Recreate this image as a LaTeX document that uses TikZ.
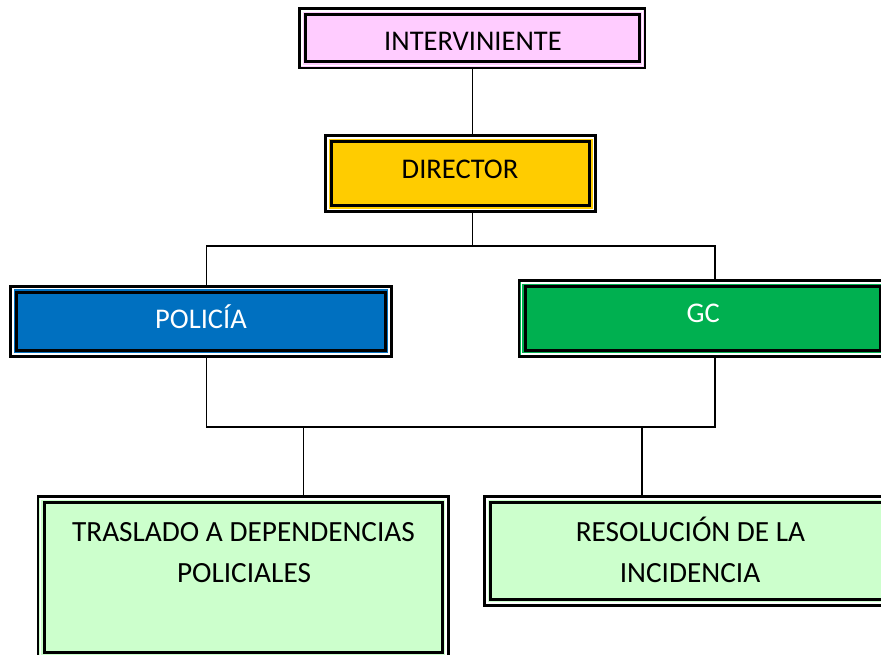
\documentclass[tikz,border=0pt]{standalone}
\usepackage{fontspec}
\setmainfont{Carlito}
\definecolor{cpink}{RGB}{255,204,255}
\definecolor{cgold}{RGB}{255,204,0}
\definecolor{cblue}{RGB}{0,112,192}
\definecolor{cgreen}{RGB}{0,176,80}
\definecolor{clight}{RGB}{204,255,204}
\tikzset{
  box/.style={draw=black, line width=2.8pt, rectangle, inner sep=0pt,
    path picture={
      \draw[white, line width=1.5pt] ([shift={(2.4pt,-2.4pt)}]path picture bounding box.north west) rectangle ([shift={(-2.4pt,2.4pt)}]path picture bounding box.south east);
      \draw[black, line width=3pt] ([shift={(6pt,-6pt)}]path picture bounding box.north west) rectangle ([shift={(-6pt,6pt)}]path picture bounding box.south east);
    }},
  lbl/.style={anchor=base, inner sep=0pt, font=\fontsize{28.5}{34}\selectfont},
  lblb/.style={anchor=base, inner sep=0pt, font=\fontsize{29.3}{35}\selectfont},
  conn/.style={draw=black, line width=1.7pt},
}
\begin{document}
\begin{tikzpicture}[x=1pt,y=-1pt]
\useasboundingbox (0,0) rectangle (881,655);
\clip (0,0) rectangle (881,655);
% boxes
\node[box, fill=cpink, minimum width=345.5pt, minimum height=59.5pt] (int) at (472.25,38.25) {};
\node[box, fill=cgold, minimum width=270pt, minimum height=76pt] (dir) at (460.8,173.8) {};
\node[box, fill=cblue, minimum width=380.6pt, minimum height=70pt] (pol) at (201,321.3) {};
\node[box, fill=cgreen, minimum width=367pt, minimum height=75.9pt] (gc) at (702.5,318.35) {};
\node[box, fill=clight, minimum width=410.6pt, minimum height=161.6pt] (tra) at (243.3,577.2) {};
\node[box, fill=clight, minimum width=410.6pt, minimum height=108.9pt] (res) at (690,550.85) {};
% labels
\node[lbl] (intT) at (473,51) {INTERVINIENTE};
\node[lbl] (dirT) at (460,178.3) {DIRECTOR};
\node[lbl, text=white] (polT) at (201,328) {POLICÍA};
\node[lbl, text=white] (gcT) at (703.3,322) {GC};
\node[lblb] (traA) at (243.5,541) {TRASLADO A DEPENDENCIAS};
\node[lblb] (traB) at (244,582) {POLICIALES};
\node[lblb] (resA) at (690.5,541) {RESOLUCIÓN DE LA};
\node[lblb] (resB) at (690,582) {INCIDENCIA};
% junctions
\coordinate (j1) at (472.5,246);
\coordinate (jl) at (206.5,246);
\coordinate (jr) at (715,246);
\coordinate (kl) at (206.5,427);
\coordinate (kr) at (715,427);
\coordinate (k1) at (303.5,427);
\coordinate (k2) at (642,427);
% connectors
\draw[conn] (int.south -| j1) -- (dir.north -| j1);
\draw[conn] (dir.south -| j1) -- (j1);
\draw[conn] (pol.north -| jl) -- (jl) -- (jr) -- (gc.north -| jr);
\draw[conn] (pol.south -| kl) -- (kl) -- (kr) -- (gc.south -| kr);
\draw[conn] (k1) -- (tra.north -| k1);
\draw[conn] (k2) -- (res.north -| k2);
\end{tikzpicture}
\end{document}
